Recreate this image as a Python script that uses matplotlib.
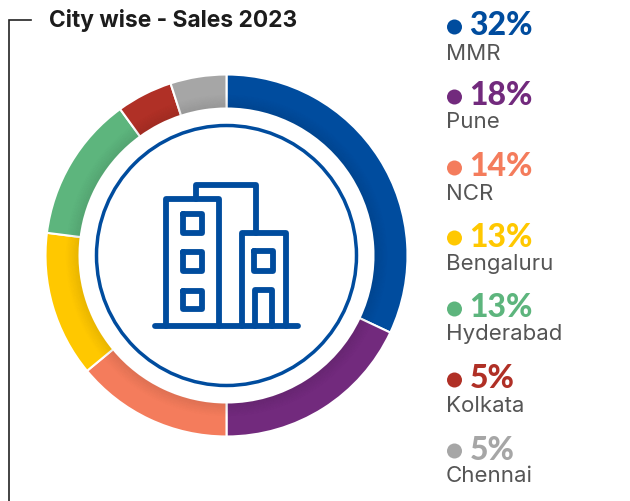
import matplotlib
matplotlib.use("Agg")
import matplotlib.pyplot as plt
from matplotlib.patches import Circle
import numpy as np

cities = ["MMR", "Pune", "NCR", "Bengaluru", "Hyderabad", "Kolkata", "Chennai"]
shares = [32, 18, 14, 13, 13, 5, 5]
colors = ["#004C9E", "#722A7D", "#F47C5C", "#FFC800", "#5DB57D", "#B03026", "#A6A6A6"]
pct_y = [35, 105, 176, 247, 317, 388, 460]
name_y = [59.5, 128.5, 200.5, 270.5, 340.5, 411.5, 482.5]
dot_y = [27, 97, 168, 238, 309, 380, 451]
title = "City wise - Sales 2023"

W, H = 630, 501
cx, cy, R, r_in = 226.5, 255.5, 181, 147
blue = "#004C9E"
plt.rcParams["font.family"] = ["Lato", "DejaVu Sans"]

fig = plt.figure(figsize=(W / 100, H / 100), dpi=100)
ax = fig.add_axes([0, 0, 1, 1])
ax.set_xlim(0, W)
ax.set_ylim(H, 0)
ax.axis("off")

# donut gets its own axes, the pie wants y going up
ax2 = fig.add_axes([(cx - R) / W, 1 - (cy + R) / H, 2 * R / W, 2 * R / H])
ax2.pie(shares, colors=colors, startangle=90, counterclock=False, radius=1,
        wedgeprops=dict(width=1 - r_in / R, edgecolor="white", linewidth=1.5))
ax2.set_xlim(-1, 1)
ax2.set_ylim(-1, 1)
ax2.set_zorder(1)
ax.set_zorder(2)
ax.patch.set_alpha(0)

# darker towards the hole
for rr in np.arange(r_in + 1.5, r_in + 14, 1.0):
    ax2.add_patch(Circle((0, 0), rr / R, fill=False, lw=0.8, ec="black",
                         alpha=0.006 * (r_in + 14 - rr)))

ax.add_patch(Circle((cx, cy), 130, fill=False, ec=blue, lw=2.5))

# bracket
ax.plot([9, 9, 31], [501, 20, 20], color="#222222", lw=1.2, solid_joinstyle="miter")
ax.text(49, 20, title, fontsize=16.4, fontweight="bold", family=["Inter", "DejaVu Sans"], color="#1c1c1c",
        va="center", ha="left")

# building icon
def icon(xs, ys):
    ax.plot(xs, ys, color=blue, lw=4.2, solid_joinstyle="round", solid_capstyle="round")

icon([166, 166, 218.7, 218.7], [325.7, 199, 199, 325.7])
icon([195.7, 195.7, 255.7, 255.7], [199, 185, 185, 232.7])
icon([241.5, 241.5, 286, 286], [325.7, 232.7, 232.7, 325.7])
icon([155, 298], [325.7, 325.7])
for y0, y1 in [(214.3, 232.7), (252.3, 271), (290.7, 309)]:
    icon([183.3, 201.7, 201.7, 183.3, 183.3], [y0, y0, y1, y1, y0])
icon([254, 273.3, 273.3, 254, 254], [251.3, 251.3, 271, 271, 251.3])
icon([255, 255, 272.3, 272.3], [325.7, 290, 290, 325.7])

# legend
for i in range(len(cities)):
    ax.add_patch(Circle((454.5, dot_y[i]), 7.5, color=colors[i], lw=0))
    ax.text(469.5, pct_y[i], "%d%%" % shares[i], fontsize=23, fontweight="black", color=colors[i],
            va="baseline", ha="left")
    ax.text(446, name_y[i], cities[i], fontsize=16, family=["Inter", "DejaVu Sans"], color="#555555",
            va="baseline", ha="left")

fig.savefig("out.png", dpi=100)
